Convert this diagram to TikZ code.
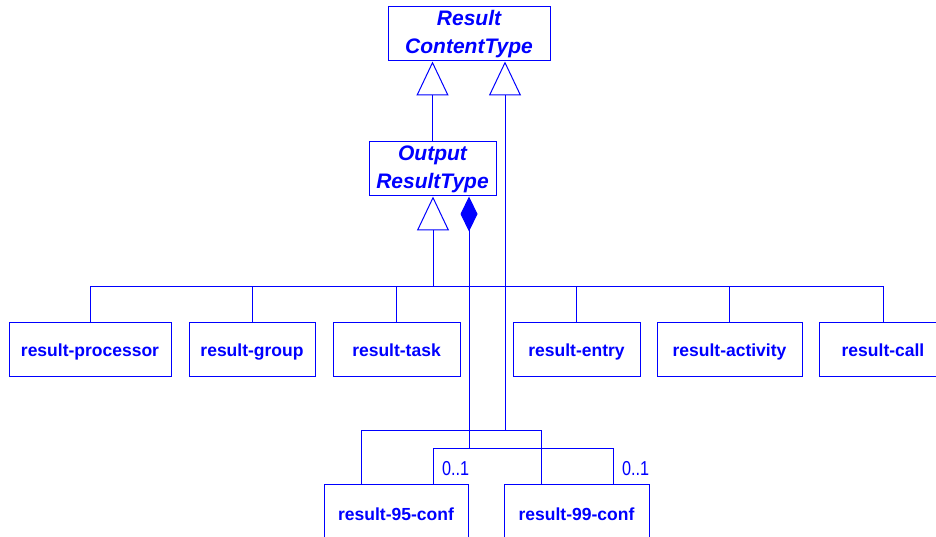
\documentclass[tikz,border=0pt]{standalone}
\usepackage{fontspec}
\setmainfont{Liberation Sans}
\usetikzlibrary{arrows.meta}
\definecolor{umlblue}{RGB}{0,0,255}
\begin{document}
\begin{tikzpicture}[x=1pt,y=-1pt,
  conn/.style={draw=umlblue, line width=1pt},
  gen/.style={conn, -{Triangle[open,length=34pt,width=32pt,line width=1pt]}},
  cls/.style={draw=umlblue, line width=1pt, text=umlblue, inner sep=0pt,
    font=\fontsize{17.5}{21}\selectfont\bfseries, minimum height=54pt,
    text height=18pt, text depth=4pt},
  lowcls/.style={cls, minimum height=62pt, text height=14pt, text depth=4pt},
  abscls/.style={cls, align=center, text height=, text depth=,
    font=\fontsize{21}{28}\selectfont\bfseries\itshape},
  mult/.style={text=umlblue, inner sep=0pt, font=\fontsize{18}{20}\selectfont}]
\useasboundingbox (0,0) rectangle (936,537);
% classes
\node[abscls, minimum width=162pt] (rct) at (469,34) {Result\\ContentType};
\node[abscls, minimum width=127pt] (ort) at (432.5,169) {Output\\ResultType};
\node[cls, minimum width=162pt] (proc) at (90,349) {result-processor};
\node[cls, minimum width=126pt] (group) at (252,349) {result-group};
\node[cls, minimum width=127pt] (task) at (396.5,349) {result-task};
\node[cls, minimum width=127pt] (entry) at (576.5,349) {result-entry};
\node[cls, minimum width=145pt] (activity) at (729.5,349) {result-activity};
\node[cls, minimum width=128pt] (call) at (883,349) {result-call};
\node[lowcls, minimum width=144pt] (b95) at (396,515) {result-95-conf};
\node[lowcls, minimum width=145pt] (b99) at (576.5,515) {result-99-conf};
% junction coordinates
\coordinate (gb) at (433,286);
\coordinate (jr) at (505,430);
\coordinate (jd) at (469,448);
\coordinate (ca1) at (361,430);
\coordinate (ca2) at (541,430);
\coordinate (cb1) at (433,448);
\coordinate (cb2) at (613,448);
% generalisations
\draw[gen] (ort.north) -- (ort.north |- rct.south);
\draw[gen] (jr) -- (jr |- rct.south);
\draw[gen] (gb) -- (gb |- ort.south);
\draw[conn] (proc.north) -- (proc.north |- gb) -- (call.north |- gb) -- (call.north);
\draw[conn] (group.north) -- (group.north |- gb);
\draw[conn] (task.north) -- (task.north |- gb);
\draw[conn] (entry.north) -- (entry.north |- gb);
\draw[conn] (activity.north) -- (activity.north |- gb);
% bottom generalisation tree
\draw[conn] (b95.north -| ca1) -- (ca1) -- (ca2) -- (b99.north -| ca2);
% composition
\draw[conn, {Diamond[length=35pt,width=17pt]}-] (jd |- ort.south) -- (jd);
\draw[conn] (b95.north -| cb1) -- (cb1) -- (cb2) -- (b99.north -| cb2);
\node[mult, anchor=base west] (m1) at (442,475) {\scalebox{0.9}[1.12]{0..1}};
\node[mult, anchor=base west] (m2) at (622,475) {\scalebox{0.9}[1.12]{0..1}};
\end{tikzpicture}
\end{document}
